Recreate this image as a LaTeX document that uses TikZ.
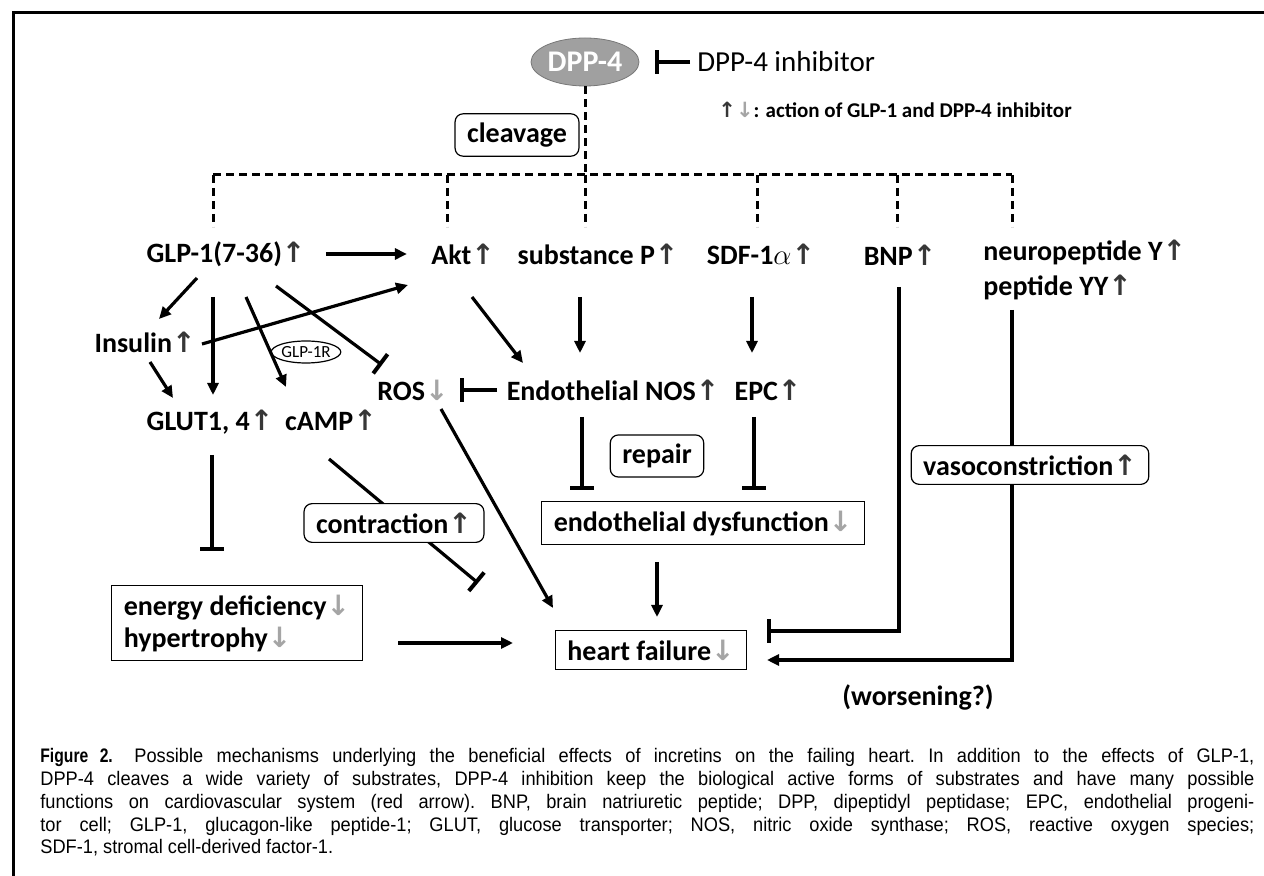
\documentclass[tikz,border=0pt]{standalone}
\usepackage{fontspec}
\setmainfont{Carlito}
\newfontfamily\flechas{DejaVu Sans}
\newfontfamily\pie[FakeStretch=0.93]{Liberation Sans}
\newfontfamily\piebold[FakeStretch=0.8]{Liberation Sans Bold}
\usepackage{tikz}
\usetikzlibrary{arrows.meta,shapes.geometric}
\definecolor{GrisElipse}{RGB}{160,160,160}
\definecolor{GrisFlecha}{RGB}{165,165,165}
\definecolor{GrisSube}{RGB}{55,55,55}
\newcommand{\Sube}{{\flechas\color{GrisSube}↑}}
\newcommand{\Baja}{{\flechas\color{GrisFlecha}↓}}
\newlength{\anchopie}\setlength{\anchopie}{607pt}
\newcommand{\lineapie}[1]{\makebox[\anchopie][s]{#1}}

\begin{document}
\begin{tikzpicture}[x=0.5pt,y=-0.5pt,
  texto/.style={font=\bfseries\fontsize{14}{16}\selectfont,inner sep=0pt},
  caja/.style={texto,draw,line width=0.6pt,fill=white,inner xsep=6pt,inner ysep=4.5pt},
  cajar/.style={caja,rounded corners=4pt},
  flecha/.style={line width=1.6pt,-{Triangle[length=6pt,width=5.5pt]}},
  inhibe/.style={line width=1.6pt,-{Bar[width=12pt,line width=2pt]}},
  punteada/.style={line width=1.5pt,dash pattern=on 4pt off 2.5pt}]
  \useasboundingbox (0,0) rectangle (1264,876);
  \draw[line width=1.5pt] (1264,13) -- (13,13) -- (13,876);
  % DPP-4 y su inhibidor
  \node[ellipse,fill=GrisElipse,draw=GrisElipse!75!black,line width=0.4pt,
        minimum width=54pt,minimum height=24pt,inner sep=0pt,text=white,
        font=\bfseries\fontsize{15}{16}\selectfont] (dpp) at (585,62) {DPP-4};
  \node[anchor=west,inner sep=0pt,font=\fontsize{14.5}{16}\selectfont] (inh) at (697,62) {DPP-4 inhibitor};
  \draw[inhibe] ([xshift=-3.5pt]inh.west) -- ([xshift=8pt]dpp.east);
  \node[anchor=west,inner sep=0pt,font=\bfseries\fontsize{10.5}{12}\selectfont] (leyenda) at (718,110)
    {\Sube\Baja: action of GLP-1 and DPP-4 inhibitor};
  \node[cajar] (clv) at (517,135) {cleavage};
  % corte punteado
  \coordinate (cruce) at (585,175);
  \coordinate (izq) at (213,175);
  \coordinate (der) at (1012,175);
  \draw[punteada] (dpp.south) -- (cruce);
  \draw[punteada] (izq) -- (der);
  \foreach \x in {213,447,585,757,897,1012}
    \draw[punteada] (\x,175) -- (\x,227);
  % sustratos
  \node[texto] (glp) at (226,254) {GLP-1(7-36)\Sube};
  \node[texto] (akt) at (463,254) {Akt\Sube};
  \node[texto] (subp) at (598,254) {substance P\Sube};
  \node[texto] (sdf) at (761,254) {SDF-1$\alpha$\Sube};
  \node[texto] (bnp) at (900,255) {BNP\Sube};
  \node[texto,anchor=west] (npy) at (983,252) {neuropeptide Y\Sube};
  \node[texto,anchor=west] (pyy) at (983,287) {peptide YY\Sube};
  % efectos
  \node[texto] (ins) at (145,342) {Insulin\Sube};
  \node[ellipse,draw,line width=0.6pt,minimum width=32pt,minimum height=11pt,inner sep=0pt,
        font=\fontsize{8.5}{9}\selectfont] (glpr) at (306,352) {GLP-1R};
  \node[texto] (ros) at (413,390) {ROS\Baja};
  \node[texto] (enos) at (613,390) {Endothelial NOS\Sube};
  \node[texto] (epc) at (768,390) {EPC\Sube};
  \node[texto,anchor=base] (glut) at (210,431) {GLUT1, 4\Sube};
  \node[texto,anchor=base] (camp) at (331,431) {cAMP\Sube};
  \node[cajar] (rep) at (657,456) {repair};
  \node[cajar] (vaso) at (1030,465) {vasoconstriction\Sube};
  \node[caja] (ed) at (703,523) {endothelial dysfunction\Baja};
  \node[caja,align=left] (ener) at (237,623) {energy deficiency\Baja\\hypertrophy\Baja};
  \node[caja] (hf) at (651,650) {heart failure\Baja};
  \node[texto] (wors) at (918,697) {(worsening?)};
  % conexiones
  \draw[flecha] ([shift={(20,0)}]glp.east) -- ([shift={(-24,0)}]akt.west);
  \draw[flecha] ([shift={(-29,24)}]glp.center) -- ([shift={(14,-23)}]ins.center);
  \draw[flecha] ([shift={(-13,43)}]glp.center) -- ([shift={(3,-36)}]glut.base);
  \draw[flecha] ([shift={(20,43)}]glp.center) -- ([shift={(-45,-44)}]camp.base);
  \draw[inhibe] ([shift={(50,32)}]glp.center) -- ([shift={(-31,-25)}]ros.center);
  \draw[flecha] ([shift={(57,2)}]ins.center) -- ([shift={(-55,31)}]akt.center);
  \draw[flecha] ([shift={(5,20)}]ins.center) -- ([shift={(-37,-33)}]glut.base);
  \draw[flecha] ([shift={(9,43)}]akt.center) -- ([shift={(-90,-27)}]enos.center);
  \draw[flecha] ([shift={(-18,43)}]subp.center) -- ([shift={(-33,-37)}]enos.center);
  \draw[flecha] ([shift={(-9,43)}]sdf.center) -- ([shift={(-16,-37)}]epc.center);
  \draw[inhibe] ([shift={(-116,0)}]enos.center) -- ([shift={(47,0)}]ros.center);
  \draw[flecha] ([shift={(28,19)}]ros.center) -- ([shift={(-98,-42)}]hf.center);
  \draw[inhibe] ([shift={(-2,28)}]camp.base) -- ([shift={(-173,-67)}]hf.center);
  \node[cajar] (contr) at (394,523) {contraction\Sube};
  \draw[inhibe] ([shift={(2,24)}]glut.base) -- ([shift={(-25,-72)}]ener.center);
  \draw[inhibe] ([shift={(-31,27)}]enos.center) -- ([shift={(-121,-33)}]ed.center);
  \draw[inhibe] ([shift={(-14,27)}]epc.center) -- ([shift={(51,-33)}]ed.center);
  \draw[flecha] ([shift={(-46,39)}]ed.center) -- ([shift={(6,-33)}]hf.center);
  \draw[flecha] ([shift={(161,20)}]ener.center) -- ([shift={(-138,-7)}]hf.center);
  \draw[inhibe] ([shift={(-1,32)}]bnp.center) |- ([shift={(116,-19)}]hf.center);
  \draw[line width=1.6pt] ([shift={(29,23)}]pyy.west) -- ([xshift=-9pt]vaso.north);
  \draw[flecha] ([xshift=-9pt]vaso.south) |- ([shift={(116,10)}]hf.center);
  % pie de figura
  \node[anchor=north west,inner sep=0pt,align=left,font=\pie\fontsize{9.8}{11.4}\selectfont\frenchspacing] (pie) at (40,748)
    {\lineapie{{\piebold Figure 2.}\hspace{1.1em}Possible mechanisms underlying the beneficial effects of incretins on the failing heart. In addition to the effects of GLP-1,}\\
     \lineapie{DPP-4 cleaves a wide variety of substrates, DPP-4 inhibition keep the biological active forms of substrates and have many possible}\\
     \lineapie{functions on cardiovascular system (red arrow). BNP, brain natriuretic peptide; DPP, dipeptidyl peptidase; EPC, endothelial progeni-}\\
     \lineapie{tor cell; GLP-1, glucagon-like peptide-1; GLUT, glucose transporter; NOS, nitric oxide synthase; ROS, reactive oxygen species;}\\
     SDF-1, stromal cell-derived factor-1.};
\end{tikzpicture}
\end{document}
